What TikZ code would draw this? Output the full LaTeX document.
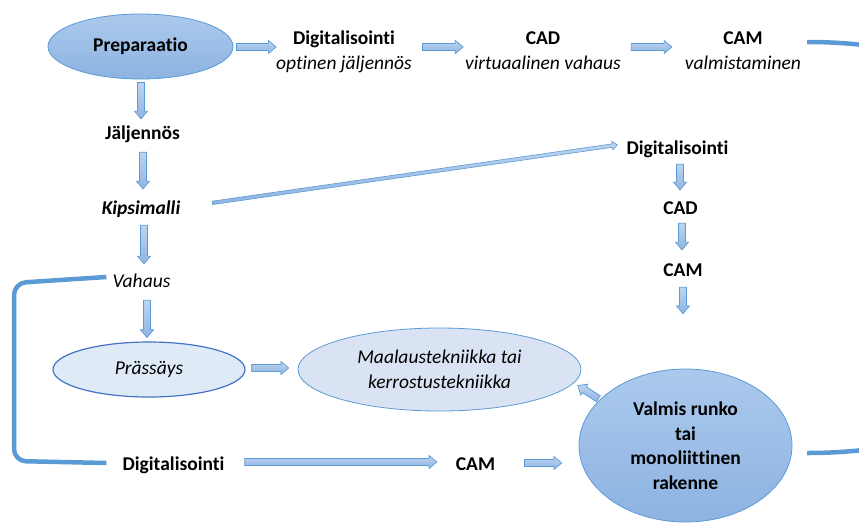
\documentclass[tikz,border=0pt]{standalone}
\usepackage{fontspec}
\setmainfont{Carlito}[Ligatures=NoCommon]
\usetikzlibrary{shapes.geometric,shapes.arrows,calc}
\definecolor{accent}{HTML}{5B9BD5}
\definecolor{darkacc}{HTML}{4472C4}
\definecolor{arrtop}{HTML}{BDD4EF}
\definecolor{arrbot}{HTML}{8FB4E3}
\definecolor{elltop}{HTML}{ABC9EC}
\definecolor{ellbot}{HTML}{8DB3E2}
\definecolor{presfill}{HTML}{DEEBF7}
\definecolor{maalfill}{HTML}{DAE3F3}
\newcommand\blockarrow[3][]{%
  \path let \p1=(#2), \p2=(#3), \n1={veclen(\x2-\x1,\y2-\y1)} in
    (\p1) -- node[barr, sloped, allow upside down, minimum height=\n1, #1] {} (\p2);}
\begin{document}
\begin{tikzpicture}[x=1pt,y=-1pt, font=\fontsize{19.5}{24.5}\selectfont,
  lbl/.style={inner sep=0pt, text height=14pt, text depth=5pt},
  bl/.style={lbl, font=\fontsize{19.5}{24.5}\selectfont\bfseries},
  il/.style={lbl, font=\fontsize{19.5}{24.5}\selectfont\itshape},
  bil/.style={lbl, font=\fontsize{19.5}{24.5}\selectfont\bfseries\itshape},
  barr/.style={single arrow, draw=accent, line width=0.7pt, top color=arrtop, bottom color=arrbot, inner xsep=0pt, inner ysep=3.2pt, single arrow head extend=3pt, single arrow tip angle=80, minimum width=0pt, outer sep=0pt},
  thinarr/.style={inner ysep=1.4pt, single arrow head extend=2.6pt, line width=0.6pt},
  bigell/.style={ellipse, draw=accent, line width=0.8pt, top color=elltop, bottom color=ellbot, inner sep=0pt, align=center, font=\fontsize{19.5}{24.5}\selectfont\bfseries},
  conn/.style={draw=accent, line width=4.5pt}
]
\useasboundingbox (0,0) rectangle (859,523);
% nodes
\node[bigell, minimum width=185pt, minimum height=65pt] (prep) at (140.5,46.5) {Preparaatio};
\node[bl] (dig1) at (344,40) {Digitalisointi};
\node[il] (dig1s) at (344,65) {optinen jäljennös};
\node[bl] (cad1) at (543,40) {CAD};
\node[il] (cad1s) at (543,65) {virtuaalinen vahaus};
\node[bl] (cam1) at (743,40) {CAM};
\node[il] (cam1s) at (743,65) {valmistaminen};
\node[bl] (jal) at (142.5,135) {Jäljennös};
\node[bil] (kips) at (141,210) {Kipsimalli};
\node[il] (vah) at (141.5,283) {Vahaus};
\node[ellipse, draw=darkacc, line width=1.2pt, fill=presfill, minimum width=192pt, minimum height=55pt, inner sep=0pt, font=\fontsize{19.5}{24.5}\selectfont\itshape] (pras) at (149,369.5) {Prässäys};
\node[ellipse, draw=accent, line width=0.8pt, fill=maalfill, minimum width=283pt, minimum height=83pt, inner sep=0pt, align=center, font=\fontsize{19.5}{24.5}\selectfont\itshape] (maal) at (439.5,369.5) {Maalaustekniikka tai\\kerrostustekniikka};
\node[bl] (dig3) at (173.5,466) {Digitalisointi};
\node[bl] (cam3) at (475.5,466) {CAM};
\node[bigell, minimum width=213pt, minimum height=153pt] (valm) at (685.5,445.5) {Valmis runko\\tai\\monoliittinen\\rakenne};
\node[bl] (dig2) at (677.5,150) {Digitalisointi};
\node[bl] (cad2) at (680.5,210) {CAD};
\node[bl] (cam2) at (683,272) {CAM};
% block arrows
\blockarrow{$(prep.east)+(1,0.5)$}{$(dig1s.west|-prep.east)+(-2,0.5)$}
\blockarrow{$(dig1s.east|-prep.east)+(8.5,0.5)$}{$(cad1s.west|-prep.east)+(-4,0.5)$}
\blockarrow{$(cad1s.east|-prep.east)+(8,0.5)$}{$(cam1s.west|-prep.east)+(-15,0.5)$}
\blockarrow{$(prep.south)+(0.5,1)$}{$(prep.south|-jal.north)+(0.5,-8.5)$}
\blockarrow{$(jal.south)+(0.5,5.5)$}{$(jal.south|-kips.north)+(0.5,-13.5)$}
\blockarrow{$(kips.south)+(3,3.5)$}{$(kips.south|-vah.north)+(3,-11.5)$}
\blockarrow{$(pras.north|-vah.south)+(-2,5.5)$}{$(pras.north)+(-2,-6)$}
\blockarrow{$(pras.east)+(4,-1.5)$}{$(maal.west|-pras.east)+(-11,-1.5)$}
\blockarrow{$(dig3.east)+(18,-4)$}{$(cam3.west|-dig3.east)+(-21,-4)$}
\blockarrow{$(cam3.east)+(27,-3)$}{$(valm.west|-cam3.east)+(-19,-3)$}
\blockarrow{$(valm.150)+(-2,2.5)$}{$(maal.-7)+(9,1)$}
\blockarrow[thinarr]{$(kips.east)+(31,-7)$}{$(dig2.west)+(-10,-5)$}
\blockarrow{$(dig2.south)+(2.5,2.5)$}{$(dig2.south|-cad2.north)+(2.5,-12.5)$}
\blockarrow{$(cad2.south)+(1.5,1.5)$}{$(cad2.south|-cam2.north)+(1.5,-14.5)$}
\blockarrow{$(cam2.south)+(0,3.5)$}{$(cam2.south|-valm.north)+(0,-57)$}
% thick connectors
\draw[conn, rounded corners=12pt] ($(vah.west)+(-6,-6)$) -- (14,283) -- (14,461) -- ($(dig3.west)+(-16,-3)$);
\coordinate (c1) at (807,42);
\coordinate (c2) at (807,453);
\begin{scope}
\clip (0,0) rectangle (859,523);
\draw[conn] (c1) .. controls (1200,42) and (1200,453) .. (c2);
\end{scope}
\end{tikzpicture}
\end{document}
